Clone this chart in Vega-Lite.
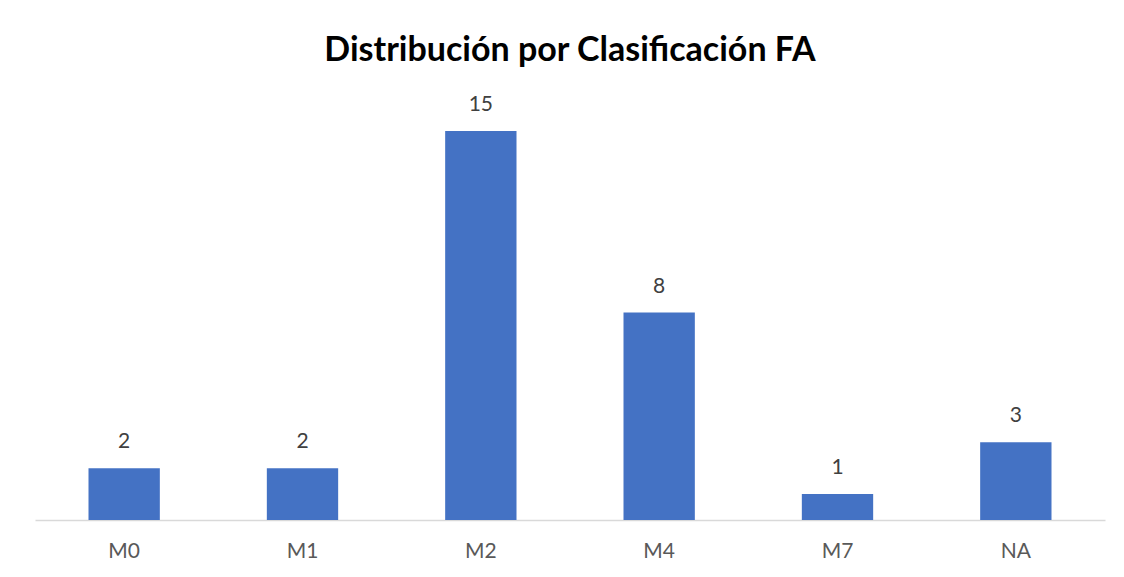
{
  "$schema": "https://vega.github.io/schema/vega-lite/v6.json",
  "autosize": "none",
  "width": 1070,
  "height": 415,
  "padding": {"left": 35, "top": 105, "right": 19, "bottom": 57},
  "background": "white",
  "title": {
    "text": "Distribución por Clasificación FA",
    "font": "Lato",
    "fontSize": 34,
    "fontWeight": "bold",
    "color": "#000000",
    "anchor": "middle",
    "offset": 26
  },
  "data": {
    "values": [
      {"cat": "M0", "n": 2},
      {"cat": "M1", "n": 2},
      {"cat": "M2", "n": 15},
      {"cat": "M4", "n": 8},
      {"cat": "M7", "n": 1},
      {"cat": "NA", "n": 3}
    ]
  },
  "encoding": {
    "x": {
      "field": "cat",
      "type": "nominal",
      "sort": null,
      "scale": {"paddingInner": 0.6, "paddingOuter": 0.3},
      "axis": {
        "title": null,
        "labelAngle": 0,
        "labelFont": "Lato",
        "labelFontSize": 21,
        "labelColor": "#595959",
        "labelPadding": 20,
        "ticks": false,
        "domainColor": "#D9D9D9",
        "domainWidth": 1.5
      }
    },
    "y": {
      "field": "n",
      "type": "quantitative",
      "scale": {"domain": [0, 16], "nice": false},
      "axis": null
    }
  },
  "layer": [
    {"mark": {"type": "bar", "color": "#4472C4"}},
    {
      "mark": {"type": "text", "baseline": "bottom", "dy": -16, "font": "Lato", "fontSize": 21, "color": "#404040"},
      "encoding": {"text": {"field": "n", "type": "quantitative"}}
    }
  ],
  "config": {"view": {"stroke": null}}
}
